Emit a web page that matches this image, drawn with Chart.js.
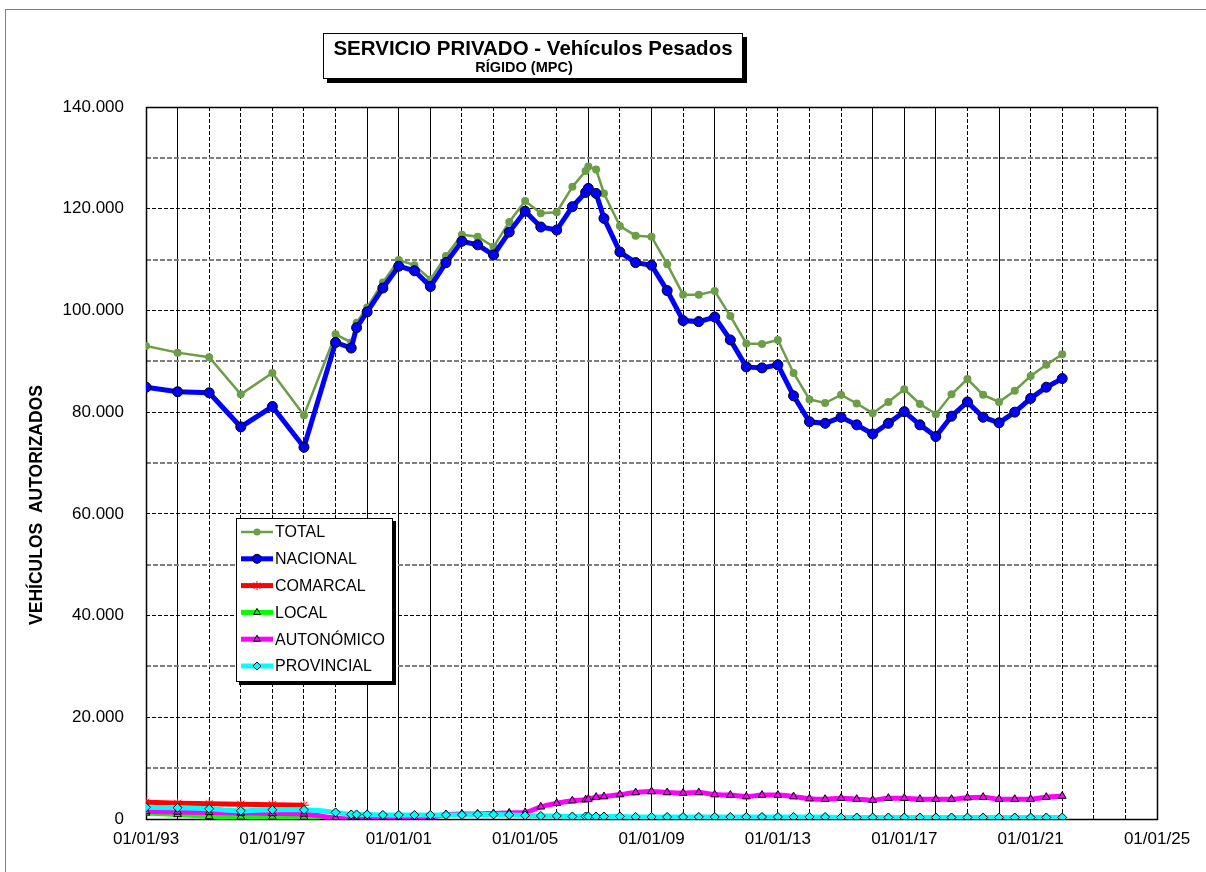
<!DOCTYPE html>
<html>
<head>
<meta charset="utf-8">
<script src="https://cdn.jsdelivr.net/npm/chart.js@4.4.0/dist/chart.umd.min.js"></script>
<style>
  html, body { margin: 0; padding: 0; background: #fff; }
  #wrap { width: 1206px; height: 872px; }
</style>
</head>
<body>
<div id="wrap"><canvas id="myChart" width="1206" height="872"></canvas></div>
<script>
// fechas de los datos (dd/mm/aa)
const fechas = [
  '01/01/93', '01/01/94', '01/01/95', '01/01/96', '01/01/97', '01/01/98', '01/01/99', '01/07/99', '01/09/99',
  '01/01/00', '01/07/00', '01/01/01', '01/07/01', '01/01/02', '01/07/02', '01/01/03', '01/07/03',
  '01/01/04', '01/07/04', '01/01/05', '01/07/05', '01/01/06', '01/07/06',
  '01/12/06', '01/01/07', '01/04/07', '01/07/07',
  '01/01/08', '01/07/08', '01/01/09', '01/07/09', '01/01/10', '01/07/10', '01/01/11', '01/07/11',
  '01/01/12', '01/07/12', '01/01/13', '01/07/13', '01/01/14', '01/07/14', '01/01/15', '01/07/15',
  '01/01/16', '01/07/16', '01/01/17', '01/07/17', '01/01/18', '01/07/18', '01/01/19', '01/07/19',
  '01/01/20', '01/07/20', '01/01/21', '01/07/21', '01/01/22'
];

const total = [
  93000, 91700, 90800, 83500, 87700, 79400, 95300, 93700, 97600,
  100600, 105500, 109900, 108900, 106100, 110700, 114900, 114500,
  112500, 117400, 121500, 119100, 119300, 124300,
  127400, 128300, 127700, 123000,
  116600, 114700, 114500, 109100, 103100, 103100, 103800, 98900,
  93500, 93400, 94200, 87700, 82500, 81800, 83400, 81700,
  79800, 82000, 84500, 81600, 79600, 83500, 86500, 83400,
  82000, 84200, 87100, 89300, 91400
];

const nacional = [
  84900, 84000, 83800, 77100, 81100, 73100, 93700, 92600, 96600,
  99700, 104400, 108700, 107800, 104700, 109400, 113600, 112900,
  110900, 115400, 119500, 116400, 115800, 120400,
  123200, 124000, 123000, 118100,
  111500, 109400, 108900, 103900, 98000, 97800, 98700, 94200,
  88900, 88700, 89300, 83200, 78100, 77800, 79000, 77500,
  75700, 77800, 80100, 77500, 75200, 79200, 82000, 79000,
  77900, 80000, 82700, 84900, 86600
];

// solo hasta 1998 / 1999
const comarcal = [3300, 3100, 3000, 2900, 2800, 2700];
const local = [1200, 900, 500, 400, 400, 400, 0];

const autonomico = [
  1500, 1400, 1300, 1200, 1100, 1000, 200, 0, 0,
  200, 200, 100, 300, 400, 900, 1000, 1000,
  1100, 1200, 1300, 2400, 3100, 3600,
  3800, 3900, 4300, 4400,
  4800, 5200, 5400, 5200, 5100, 5200, 4800, 4700,
  4400, 4700, 4700, 4400, 4000, 3900, 4100, 3900,
  3700, 4100, 4100, 3900, 3900, 3900, 4200, 4300,
  3900, 3900, 3900, 4300, 4500
];

const provincial = [
  2300, 2200, 2000, 1600, 1800, 1800, 1300, 900, 900,
  900, 800, 800, 800, 800, 800, 800, 900,
  900, 800, 700, 600, 600, 500,
  500, 500, 500, 500,
  500, 400, 400, 400, 400, 400, 400, 400,
  400, 400, 400, 400, 400, 400, 300, 300,
  300, 300, 300, 300, 300, 300, 300, 300,
  300, 300, 300, 300, 300
];

const xTickYears = [1993, 1997, 2001, 2005, 2009, 2013, 2017, 2021, 2025];
// lineas verticales que salen continuas en el original
const solidYears = [1994, 2000, 2001, 2002, 2007, 2009, 2011, 2016, 2017, 2018, 2020];

const FONT = "'Liberation Sans', Arial, sans-serif";

function toYear(f) {
  const [d, m, a] = f.split('/').map(Number);
  const y = a < 50 ? 2000 + a : 1900 + a;
  const start = Date.UTC(y, 0, 1);
  const end = Date.UTC(y + 1, 0, 1);
  return y + (Date.UTC(y, m - 1, d) - start) / (end - start);
}

function pts(arr) {
  return arr.map((v, i) => ({ x: toYear(fechas[i]), y: v }));
}

function miles(v) {
  return String(v).replace(/\B(?=(\d{3})+(?!\d))/g, '.');
}

const datasets = [
  { label: 'TOTAL', data: pts(total), borderColor: '#6b9e47', borderWidth: 2.5,
    pointStyle: 'circle', pointRadius: 4, pointBackgroundColor: '#6b9e47', pointBorderColor: '#6b9e47', pointBorderWidth: 0 },
  { label: 'NACIONAL', data: pts(nacional), borderColor: '#0000ff', borderWidth: 5,
    pointStyle: 'circle', pointRadius: 5, pointBackgroundColor: '#0000ff', pointBorderColor: '#000', pointBorderWidth: 1 },
  { label: 'COMARCAL', data: pts(comarcal), borderColor: '#ff0000', borderWidth: 5, cubicInterpolationMode: 'monotone',
    pointStyle: 'star', pointRadius: 5, pointBackgroundColor: '#ff0000', pointBorderColor: '#ff0000', pointBorderWidth: 1 },
  { label: 'LOCAL', data: pts(local), borderColor: '#00ff00', borderWidth: 5, cubicInterpolationMode: 'monotone',
    pointStyle: 'triangle', pointRadius: 4.5, pointBackgroundColor: '#00ff00', pointBorderColor: '#000', pointBorderWidth: 1 },
  { label: 'AUTONÓMICO', data: pts(autonomico), borderColor: '#ff00ff', borderWidth: 5, cubicInterpolationMode: 'monotone',
    pointStyle: 'triangle', pointRadius: 4.5, pointBackgroundColor: '#ff00ff', pointBorderColor: '#000', pointBorderWidth: 1 },
  { label: 'PROVINCIAL', data: pts(provincial), borderColor: '#00ffff', borderWidth: 5, cubicInterpolationMode: 'monotone',
    pointStyle: 'rectRot', pointRadius: 4.5, pointBackgroundColor: '#00ffff', pointBorderColor: '#000', pointBorderWidth: 1 }
];
// como en Excel, la ultima serie queda encima
datasets.forEach((d, i) => { d.order = -i; d.fill = false; });

const marcoPlugin = {
  id: 'marco',
  beforeDraw(chart) {
    const ctx = chart.ctx;
    ctx.save();
    ctx.fillStyle = '#fff';
    ctx.fillRect(0, 0, chart.width, chart.height);
    ctx.strokeStyle = '#808080';
    ctx.lineWidth = 1;
    ctx.strokeRect(5.5, 9.5, 1400, 1000);

    // caja del titulo con sombra
    ctx.fillStyle = '#000';
    ctx.fillRect(327, 37, 420, 46);
    ctx.fillStyle = '#fff';
    ctx.fillRect(323, 33, 420, 46);
    ctx.strokeStyle = '#000';
    ctx.strokeRect(323.5, 33.5, 419, 45);
    ctx.fillStyle = '#000';
    ctx.textAlign = 'center';
    ctx.textBaseline = 'middle';
    ctx.font = 'bold 20.5px ' + FONT;
    ctx.fillText('SERVICIO PRIVADO - Vehículos Pesados', 533, 49);
    ctx.font = 'bold 14.5px ' + FONT;
    ctx.fillText('RÍGIDO (MPC)', 524, 68);

    // titulo eje Y
    ctx.translate(37, 505);
    ctx.rotate(-Math.PI / 2);
    ctx.font = 'bold 17.5px ' + FONT;
    ctx.fillText('VEHÍCULOS  AUTORIZADOS', 0, 0);
    ctx.restore();
  },
  beforeDatasetsDraw(chart) {
    const a = chart.chartArea;
    const ctx = chart.ctx;
    ctx.save();
    ctx.strokeStyle = '#000';
    ctx.lineWidth = 1.5;
    ctx.strokeRect(Math.round(a.left) + 0.5, Math.round(a.top) + 0.5,
      Math.round(a.right - a.left), Math.round(a.bottom - a.top));
    ctx.restore();
  }
};

const leyendaPlugin = {
  id: 'leyenda',
  afterDraw(chart) {
    const ctx = chart.ctx;
    const bx = 236, by = 518, bw = 157, bh = 164;
    ctx.save();
    ctx.fillStyle = '#000';
    ctx.fillRect(bx + 3, by + 3, bw, bh);
    ctx.fillStyle = '#fff';
    ctx.fillRect(bx, by, bw, bh);
    ctx.strokeStyle = '#000';
    ctx.lineWidth = 1;
    ctx.strokeRect(bx + 0.5, by + 0.5, bw - 1, bh - 1);
    ctx.font = '16px ' + FONT;
    ctx.textBaseline = 'middle';
    chart.data.datasets.forEach((d, i) => {
      const y = by + 14 + i * 26.8;
      ctx.strokeStyle = d.borderColor;
      ctx.lineWidth = d.borderWidth;
      ctx.beginPath();
      ctx.moveTo(bx + 5, y);
      ctx.lineTo(bx + 37, y);
      ctx.stroke();
      ctx.fillStyle = d.pointBackgroundColor;
      ctx.strokeStyle = d.pointBorderColor;
      ctx.lineWidth = d.pointBorderWidth || 1;
      Chart.helpers.drawPoint(ctx, {
        pointStyle: d.pointStyle, radius: d.pointRadius - 0.5, rotation: 0,
        borderWidth: d.pointBorderWidth
      }, bx + 21, y);
      ctx.fillStyle = '#000';
      ctx.fillText(d.label, bx + 39, y + 1);
    });
    ctx.restore();
  }
};

const config = {
  type: 'line',
  data: { datasets },
  options: {
    responsive: false,
    devicePixelRatio: 1,
    animation: false,
    layout: { padding: { top: 107, right: 49, bottom: 0, left: 0 } },
    plugins: { legend: { display: false }, tooltip: { enabled: false }, title: { display: false } },
    scales: {
      x: {
        type: 'linear',
        min: 1993,
        max: 2025,
        afterFit: (s) => { s.height = 53; },
        grid: {
          color: '#000',
          lineWidth: 1,
          drawTicks: false
        },
        border: {
          display: false,
          dash: (c) => (c.tick && solidYears.includes(Math.round(c.tick.value))) ? [] : [4, 2]
        },
        ticks: {
          stepSize: 1,
          autoSkip: false,
          maxRotation: 0,
          padding: 10,
          color: '#000',
          font: { family: FONT, size: 17 },
          callback: (v) => xTickYears.includes(Math.round(v))
            ? '01/01/' + String(Math.round(v) % 100).padStart(2, '0') : ''
        }
      },
      y: {
        min: 0,
        max: 140000,
        afterFit: (s) => { s.width = 146; },
        grid: {
          color: (c) => (c.tick && c.tick.value % 20000 === 0) ? '#000' : '#7f7f7f',
          lineWidth: (c) => (c.tick && c.tick.value % 20000 === 0) ? 1 : 2,
          drawTicks: false
        },
        border: {
          display: false,
          dash: (c) => (c.tick && c.tick.value % 20000 === 0) ? [4, 2] : [5, 2]
        },
        ticks: {
          stepSize: 10000,
          autoSkip: false,
          padding: 22,
          color: '#000',
          font: { family: FONT, size: 17 },
          callback: (v) => v % 20000 === 0 ? miles(v) : ''
        }
      }
    }
  },
  plugins: [marcoPlugin, leyendaPlugin]
};

new Chart(document.getElementById('myChart'), config);
</script>
</body>
</html>
